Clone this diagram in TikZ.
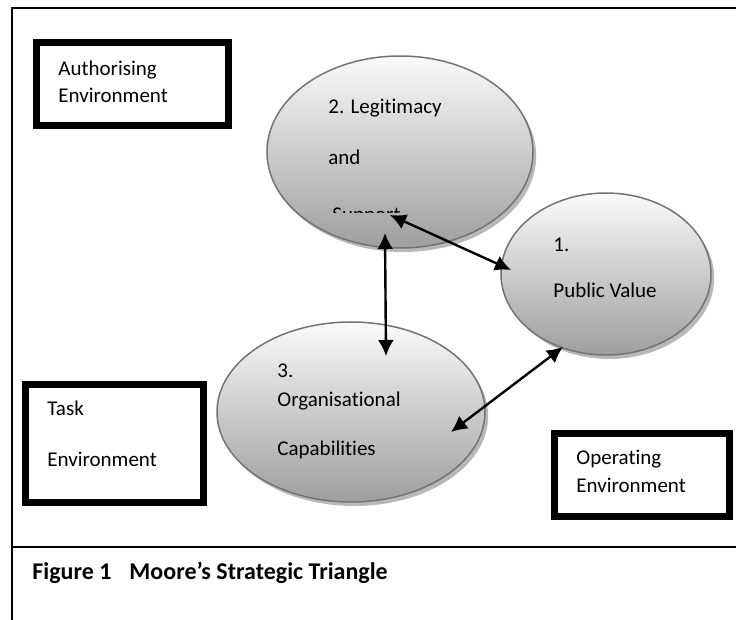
\documentclass[tikz,border=0pt]{standalone}
\usepackage{fontspec}
\setmainfont{Carlito}[Ligatures=NoCommon]
\usetikzlibrary{shapes.geometric,shadows,arrows.meta}
\begin{document}
\begin{tikzpicture}[x=0.5pt, y=-0.5pt, font=\fontsize{10.5}{12.6}\selectfont,
  envbox/.style={draw, line width=3.5pt},
  bubble/.style={ellipse, draw=black!55, line width=0.75pt, top color=black!2, bottom color=black!38,
    drop shadow={shadow xshift=1.6pt, shadow yshift=-2pt, fill=black!28, opacity=1}},
  txt/.style={anchor=base west, inner sep=0pt},
  twoway/.style={{Latex[length=8pt,width=8pt]}-{Latex[length=8pt,width=8pt]}, line width=1.2pt}]
\useasboundingbox (0,0) rectangle (736,620);
% frame and caption line
\draw[line width=1pt] (12,620) -- (12,8) -- (736,8);
\draw[line width=1pt] (12,547) -- (736,547);
\node[txt, font=\fontsize{12}{14.4}\selectfont\bfseries] (cap) at (32,580) {Figure 1\hspace{9pt}Moore’s Strategic Triangle};
% environments
\draw[envbox] (36.5,42.5) rectangle (228.5,125.5);
\node[txt] (auth1) at (58,76) {Authorising};
\node[txt] (auth2) at (58,103) {Environment};
\draw[envbox] (25.5,384.5) rectangle (203.5,502.5);
\node[txt] (task1) at (47,416) {Task};
\node[txt] (task2) at (47,467) {Environment};
\draw[envbox] (554.5,433.5) rectangle (729.5,516.5);
\node[txt] (oper1) at (576,465) {Operating};
\node[txt] (oper2) at (576,493) {Environment};
% the three corners
\node[bubble, minimum width=133pt, minimum height=96pt] (legit) at (400,152) {};
\node[bubble, minimum width=105pt, minimum height=81pt] (pv) at (606,274) {};
\node[bubble, minimum width=134pt, minimum height=90pt] (org) at (351,412) {};
\node[txt] (legit1) at (328,114) {2. Legitimacy};
\node[txt] (legit2) at (328,165) {and};
\begin{scope}
\clip (300,150) rectangle (480,213);
\node[txt] (legit3) at (332,222) {Support};
\end{scope}
\node[txt] (pv1) at (553,252) {1.};
\node[txt] (pv2) at (553,298) {Public Value};
\node[txt] (org1) at (277,378) {3.};
\node[txt] (org2) at (277,407) {Organisational};
\node[txt] (org3) at (277,456) {Capabilities};
% arrows
\coordinate (lp) at (390,215);
\coordinate (pl) at (511,270);
\coordinate (lo) at (385,233);
\coordinate (ol) at (386,356);
\coordinate (po) at (563,347);
\coordinate (op) at (451,432);
\draw[twoway] (lp) -- (pl);
\draw[twoway] (lo) -- (ol);
\draw[twoway] (po) -- (op);
\end{tikzpicture}
\end{document}
